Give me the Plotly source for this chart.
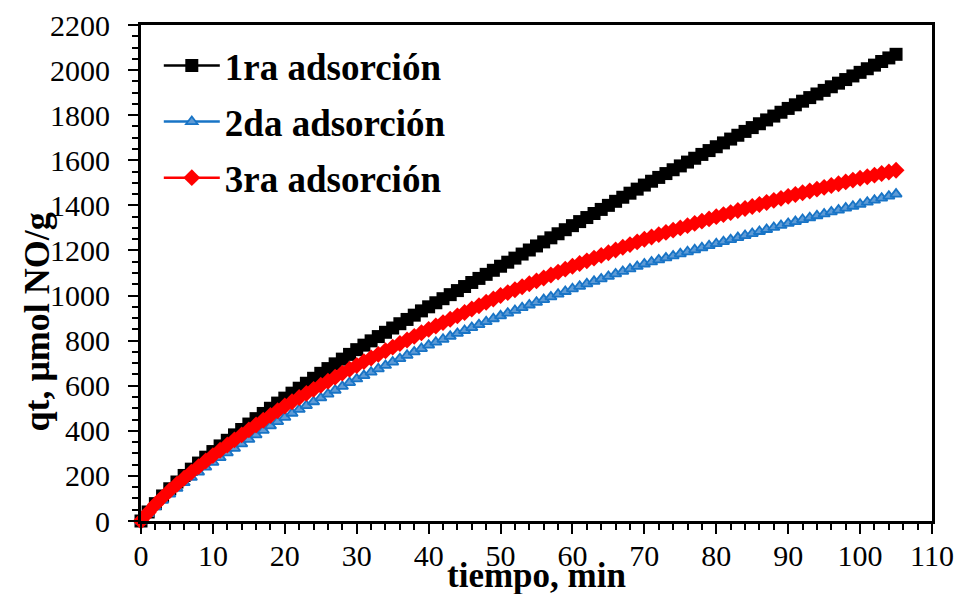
import plotly.graph_objects as go

# Time axis: one reading per minute
tiempo = list(range(0, 106))

# qt (umol NO/g) for each adsorption cycle
ads1 = [0, 40, 77, 111, 143, 173, 202, 230, 257, 283,
        308, 333, 358, 382, 406, 430, 454, 477, 500, 523,
        545, 567, 589, 611, 633, 655, 676, 697, 718, 739,
        760, 780, 799, 818, 837, 856, 875, 894, 913, 932,
        950, 968, 986, 1004, 1022, 1040, 1058, 1076, 1094, 1112,
        1130, 1148, 1166, 1184, 1202, 1220, 1238, 1256, 1274, 1292,
        1310, 1328, 1346, 1364, 1382, 1400, 1418, 1436, 1454, 1472,
        1490, 1507, 1524, 1541, 1558, 1575, 1592, 1609, 1626, 1643,
        1660, 1677, 1694, 1711, 1728, 1745, 1762, 1779, 1796, 1813,
        1830, 1846, 1862, 1878, 1894, 1910, 1926, 1942, 1958, 1974,
        1990, 2006, 2022, 2038, 2054, 2070]

ads2 = [0, 33, 63, 92, 119, 145, 170, 194, 217, 239,
        260, 281, 302, 322, 342, 362, 382, 402, 422, 441,
        460, 478, 495, 512, 529, 546, 563, 580, 597, 614,
        630, 645, 660, 675, 690, 705, 720, 735, 750, 765,
        780, 793, 806, 819, 832, 845, 858, 871, 884, 897,
        910, 922, 934, 946, 958, 970, 982, 994, 1006, 1018,
        1030, 1041, 1052, 1063, 1074, 1085, 1096, 1107, 1118, 1129,
        1140, 1149, 1158, 1167, 1176, 1185, 1194, 1203, 1212, 1221,
        1230, 1239, 1248, 1257, 1266, 1275, 1284, 1293, 1302, 1311,
        1320, 1328, 1337, 1345, 1354, 1362, 1371, 1379, 1388, 1396,
        1405, 1414, 1423, 1432, 1441, 1450]

ads3 = [0, 38, 73, 105, 135, 163, 190, 216, 241, 266,
        290, 314, 337, 360, 382, 404, 426, 447, 468, 489,
        510, 529, 548, 566, 584, 602, 620, 638, 656, 673,
        690, 707, 723, 739, 755, 771, 787, 803, 819, 835,
        850, 865, 880, 895, 910, 925, 940, 955, 970, 985,
        1000, 1013, 1026, 1039, 1052, 1065, 1078, 1091, 1104, 1117,
        1130, 1142, 1154, 1166, 1178, 1190, 1202, 1214, 1226, 1238,
        1250, 1260, 1270, 1280, 1290, 1300, 1310, 1320, 1330, 1340,
        1350, 1359, 1368, 1377, 1386, 1395, 1404, 1413, 1422, 1431,
        1440, 1448, 1456, 1464, 1472, 1480, 1488, 1496, 1504, 1512,
        1520, 1527, 1534, 1541, 1548, 1556]

names = ["1ra adsorción", "2da adsorción", "3ra adsorción"]
x_ticks = list(range(0, 111, 10))
y_ticks = list(range(0, 2201, 200))
x_title = "tiempo, min"
y_title = "qt, μmol NO/g"

SERIF = "Liberation Serif"

fig = go.Figure()

fig.add_trace(go.Scatter(
    x=tiempo, y=ads1, name=names[0], mode="lines+markers",
    legendgroup="a",
    line=dict(color="black", width=2.5),
    marker=dict(symbol="square", size=13, color="black"),
    cliponaxis=False,
))
fig.add_trace(go.Scatter(
    x=tiempo, y=ads2, name=names[1], mode="lines+markers",
    legendgroup="b",
    line=dict(color="#1874C6", width=2.5),
    marker=dict(symbol="triangle-up", size=10, color="#5E9BD6",
                line=dict(color="#1874C6", width=1.8)),
    cliponaxis=False,
))
fig.add_trace(go.Scatter(
    x=tiempo, y=ads3, name=names[2], mode="lines+markers",
    legendgroup="c",
    line=dict(color="#FF0000", width=2.5),
    marker=dict(symbol="diamond", size=13, color="#FF0000"),
    cliponaxis=False,
))

axis_common = dict(
    showline=True, linecolor="black", linewidth=3, mirror=True,
    showgrid=False, zeroline=False, automargin=False,
    ticks="outside", ticklen=10, tickwidth=2, tickcolor="black",
    tickfont=dict(family=SERIF, size=30, color="black"),
)

fig.update_xaxes(
    range=[0, 110], tickvals=x_ticks,
    minor=dict(dtick=2, ticks="outside", ticklen=6, tickwidth=2, tickcolor="black"),
    ticklabelstandoff=-4,
    **axis_common,
)
fig.update_yaxes(
    range=[0, 2200], tickvals=y_ticks,
    minor=dict(dtick=50, ticks="outside", ticklen=6, tickwidth=2, tickcolor="black"),
    ticklabelstandoff=12,
    **axis_common,
)

# Axis titles placed as annotations (pixel offsets from the plot area)
fig.add_annotation(
    text=f"<b>{x_title}</b>", xref="paper", yref="paper",
    x=0.5, y=0, xanchor="center", yanchor="middle", yshift=-54,
    showarrow=False, font=dict(family=SERIF, size=35, color="black"),
)
fig.add_annotation(
    text=f"<b>{y_title}</b>", xref="paper", yref="paper",
    x=0, y=0.4, xanchor="center", yanchor="middle", xshift=-104,
    textangle=-90, showarrow=False,
    font=dict(family=SERIF, size=36, color="black"),
)

fig.update_layout(
    width=959, height=594,
    margin=dict(l=141, r=27, t=25, b=73),
    paper_bgcolor="white", plot_bgcolor="white",
    showlegend=True,
    legend=dict(
        x=0.0225, y=0.98, xanchor="left", yanchor="top",
        bgcolor="rgba(0,0,0,0)",
        font=dict(family=SERIF, size=37, color="black", weight="bold"),
        tracegroupgap=5,
        itemwidth=56,
    ),
)

fig.write_html("out.html")
